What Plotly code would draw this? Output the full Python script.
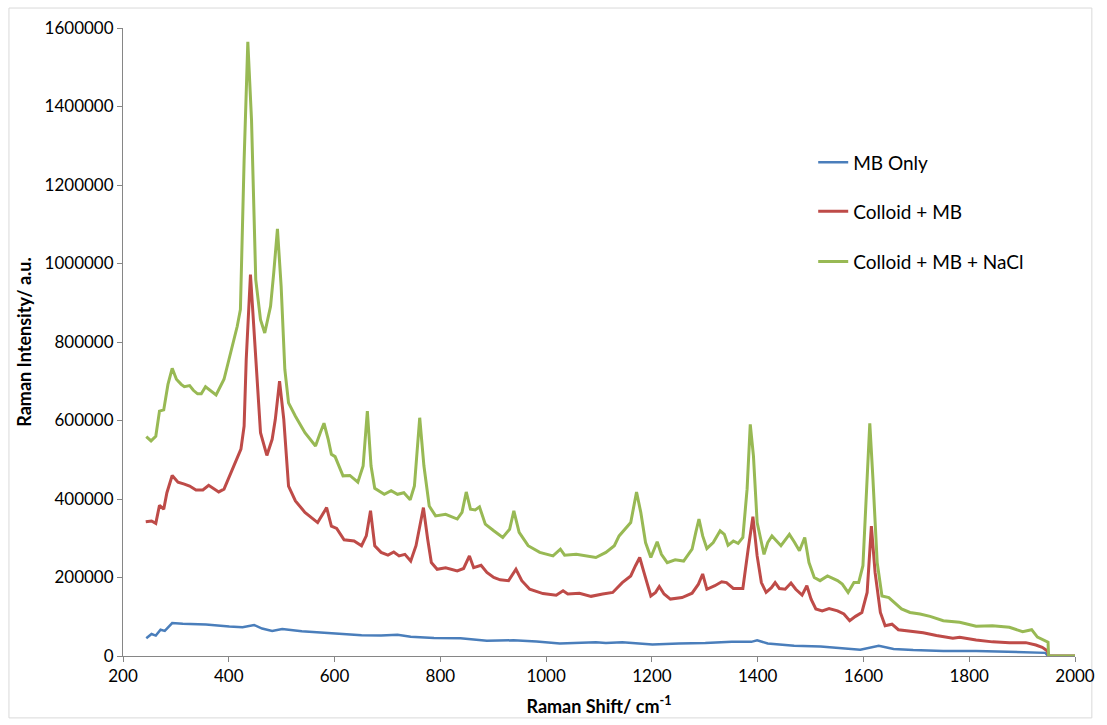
import plotly.graph_objects as go

# Raman shift (cm-1) and intensity (a.u.) for each sample
mb_only_x = [244, 254, 262, 271, 279, 293, 313, 357, 401, 426, 448, 463, 482, 501, 538,
             576, 607, 651, 688, 719, 744, 788, 838, 888, 938, 982, 1026, 1063, 1094, 1113,
             1144, 1201, 1251, 1301, 1351, 1388, 1399, 1419, 1469, 1519, 1569, 1594, 1629,
             1657, 1694, 1751, 1813, 1876, 1919, 1944, 1949, 2000]
mb_only_y = [45000, 56000, 52000, 67000, 64000, 84000, 82000, 80000, 75000, 73000, 79000,
             70000, 64000, 69000, 63000, 60000, 56000, 53000, 52000, 54000, 49000, 46000,
             45000, 39000, 40000, 37000, 32000, 34000, 35000, 33000, 35000, 29000, 32000,
             33000, 36000, 36000, 40000, 32000, 26000, 24000, 19000, 16000, 26000, 18000,
             15000, 13000, 13000, 11000, 9000, 8000, 0, 0]

colloid_mb_x = [243, 254, 262, 269, 277, 283, 293, 304, 316, 326, 338, 351, 362, 381, 391,
                404, 423, 429, 433, 441, 451, 460, 472, 482, 488, 496, 504, 513, 526, 544,
                568, 577, 585, 594, 604, 618, 637, 651, 660, 668, 676, 688, 701, 712, 722,
                733, 744, 754, 768, 776, 783, 794, 810, 832, 844, 855, 863, 877, 888, 901,
                913, 929, 943, 954, 969, 994, 1019, 1032, 1041, 1063, 1085, 1107, 1126, 1144,
                1160, 1169, 1177, 1185, 1198, 1207, 1214, 1223, 1235, 1257, 1276, 1288, 1296,
                1304, 1319, 1332, 1341, 1354, 1372, 1382, 1391, 1399, 1407, 1416, 1426, 1433,
                1441, 1452, 1463, 1472, 1484, 1493, 1501, 1510, 1522, 1535, 1551, 1563, 1574,
                1585, 1597, 1607, 1615, 1622, 1632, 1641, 1654, 1666, 1688, 1713, 1738, 1769,
                1782, 1813, 1844, 1876, 1907, 1926, 1938, 1948, 1950, 2000]
colloid_mb_y = [342000, 344000, 338000, 384000, 374000, 416000, 460000, 443000, 438000,
                433000, 423000, 423000, 435000, 418000, 425000, 467000, 527000, 586000,
                756000, 972000, 756000, 569000, 511000, 552000, 603000, 700000, 603000,
                433000, 395000, 366000, 340000, 361000, 378000, 331000, 325000, 296000,
                293000, 281000, 306000, 370000, 281000, 264000, 257000, 265000, 255000,
                259000, 242000, 281000, 378000, 298000, 238000, 221000, 225000, 217000,
                223000, 255000, 225000, 231000, 213000, 200000, 194000, 192000, 221000,
                192000, 170000, 159000, 155000, 166000, 158000, 160000, 152000, 158000,
                162000, 187000, 204000, 230000, 251000, 213000, 153000, 162000, 177000,
                158000, 145000, 149000, 160000, 183000, 209000, 170000, 179000, 189000,
                187000, 172000, 172000, 272000, 355000, 255000, 187000, 162000, 174000,
                187000, 172000, 170000, 186000, 170000, 155000, 179000, 145000, 120000,
                115000, 121000, 115000, 107000, 90000, 101000, 111000, 162000, 331000,
                213000, 111000, 77000, 81000, 67000, 63000, 59000, 52000, 45000, 48000,
                41000, 36000, 34000, 34000, 28000, 22000, 13000, 0, 0]

colloid_mb_nacl_x = [244, 253, 262, 269, 277, 285, 293, 301, 310, 316, 326, 333, 341, 348,
                     356, 366, 376, 391, 404, 416, 422, 429, 436, 443, 451, 460, 468, 479,
                     485, 492, 499, 506, 513, 526, 544, 564, 573, 580, 588, 594, 601, 616,
                     629, 644, 654, 662, 669, 676, 694, 707, 719, 731, 743, 751, 761, 769,
                     779, 791, 810, 832, 841, 849, 857, 866, 874, 885, 901, 918, 931, 939,
                     949, 966, 988, 1013, 1027, 1035, 1057, 1076, 1094, 1113, 1129, 1138,
                     1151, 1160, 1171, 1179, 1188, 1198, 1210, 1218, 1229, 1244, 1260, 1276,
                     1283, 1289, 1296, 1304, 1316, 1329, 1337, 1344, 1354, 1363, 1372, 1380,
                     1386, 1392, 1399, 1412, 1419, 1427, 1444, 1460, 1469, 1479, 1489, 1497,
                     1507, 1518, 1532, 1551, 1560, 1571, 1582, 1591, 1599, 1607, 1612, 1618,
                     1626, 1635, 1648, 1657, 1672, 1688, 1707, 1726, 1751, 1782, 1813, 1844,
                     1876, 1901, 1918, 1929, 1941, 1949, 1950, 2000]
colloid_mb_nacl_y = [559000, 548000, 560000, 624000, 627000, 692000, 733000, 705000,
                     692000, 686000, 689000, 677000, 668000, 668000, 686000, 675000,
                     665000, 705000, 773000, 840000, 883000, 1264000, 1565000, 1366000,
                     959000, 857000, 823000, 891000, 976000, 1088000, 942000, 730000,
                     645000, 611000, 569000, 535000, 569000, 593000, 552000, 514000,
                     508000, 459000, 460000, 443000, 484000, 624000, 484000, 427000,
                     412000, 421000, 412000, 416000, 398000, 433000, 607000, 484000,
                     382000, 357000, 361000, 349000, 366000, 418000, 374000, 372000,
                     380000, 336000, 319000, 302000, 323000, 370000, 315000, 281000,
                     264000, 255000, 272000, 257000, 259000, 255000, 251000, 264000,
                     281000, 306000, 325000, 340000, 418000, 366000, 289000, 251000,
                     291000, 259000, 238000, 245000, 242000, 272000, 315000, 349000,
                     306000, 274000, 289000, 319000, 310000, 282000, 293000, 287000,
                     302000, 425000, 590000, 510000, 340000, 259000, 289000, 306000,
                     281000, 310000, 291000, 268000, 302000, 238000, 200000, 192000,
                     204000, 192000, 183000, 162000, 187000, 187000, 230000, 450000,
                     593000, 450000, 238000, 153000, 149000, 138000, 120000, 111000,
                     107000, 101000, 90000, 86000, 76000, 77000, 73000, 62000, 67000,
                     48000, 39000, 35000, 0, 0]

x_ticks = [200, 400, 600, 800, 1000, 1200, 1400, 1600, 1800, 2000]
y_ticks = [0, 200000, 400000, 600000, 800000, 1000000, 1200000, 1400000, 1600000]

FONT = "Lato, 'Open Sans', sans-serif"
AXIS_GREY = "#868686"

fig = go.Figure()
series = [
    ("MB Only", mb_only_x, mb_only_y, "#4a7ebb", 2.5, "legend"),
    ("Colloid + MB", colloid_mb_x, colloid_mb_y, "#be4b48", 3, "legend2"),
    ("Colloid + MB + NaCl", colloid_mb_nacl_x, colloid_mb_nacl_y, "#98b954", 3, "legend3"),
]
for name, xs, ys, color, width, leg in series:
    fig.add_trace(go.Scatter(x=xs, y=ys, mode="lines", name=name,
                             line=dict(color=color, width=width),
                             legend=leg, showlegend=True))

legend_common = dict(font=dict(family=FONT, size=19, color="#000000"),
                     bgcolor="rgba(0,0,0,0)", xanchor="left", yanchor="middle",
                     itemwidth=30, visible=True)
fig.update_layout(
    width=1107, height=725,
    showlegend=True,
    margin=dict(l=123, r=24, t=28, b=68),
    paper_bgcolor="white", plot_bgcolor="white",
    font=dict(family=FONT, size=17, color="#000000"),
    legend=dict(x=0.725, y=0.786, **legend_common),
    legend2=dict(x=0.725, y=0.708, **legend_common),
    legend3=dict(x=0.725, y=0.628, **legend_common),
    xaxis=dict(range=[200, 2000], tickvals=x_ticks, ticktext=[str(v) for v in x_ticks],
               showgrid=False, zeroline=False, showline=True, linecolor=AXIS_GREY,
               linewidth=1, ticks="outside", ticklen=5, tickcolor=AXIS_GREY,
               tickfont=dict(size=17),
               title=dict(text="<b>Raman Shift/ cm<sup>-1</sup></b>",
                          font=dict(size=18), standoff=14)),
    yaxis=dict(range=[0, 1600000], tickvals=y_ticks, ticktext=[str(v) for v in y_ticks],
               showgrid=False, zeroline=False, showline=True, linecolor=AXIS_GREY,
               linewidth=1, ticks="outside", ticklen=5, tickcolor=AXIS_GREY,
               tickfont=dict(size=17),
               title=dict(text="<b>Raman Intensity/ a.u.</b>",
                          font=dict(size=18), standoff=8)),
)

# light frame around the whole chart area
fig.add_shape(type="rect", xref="paper", yref="paper",
              x0=(8 - 123) / 960, x1=(1100 - 123) / 960,
              y0=(657 - 719) / 629, y1=(657 - 8) / 629,
              line=dict(color="#d9d9d9", width=1), fillcolor="rgba(0,0,0,0)",
              layer="below")

fig.write_html("out.html")
